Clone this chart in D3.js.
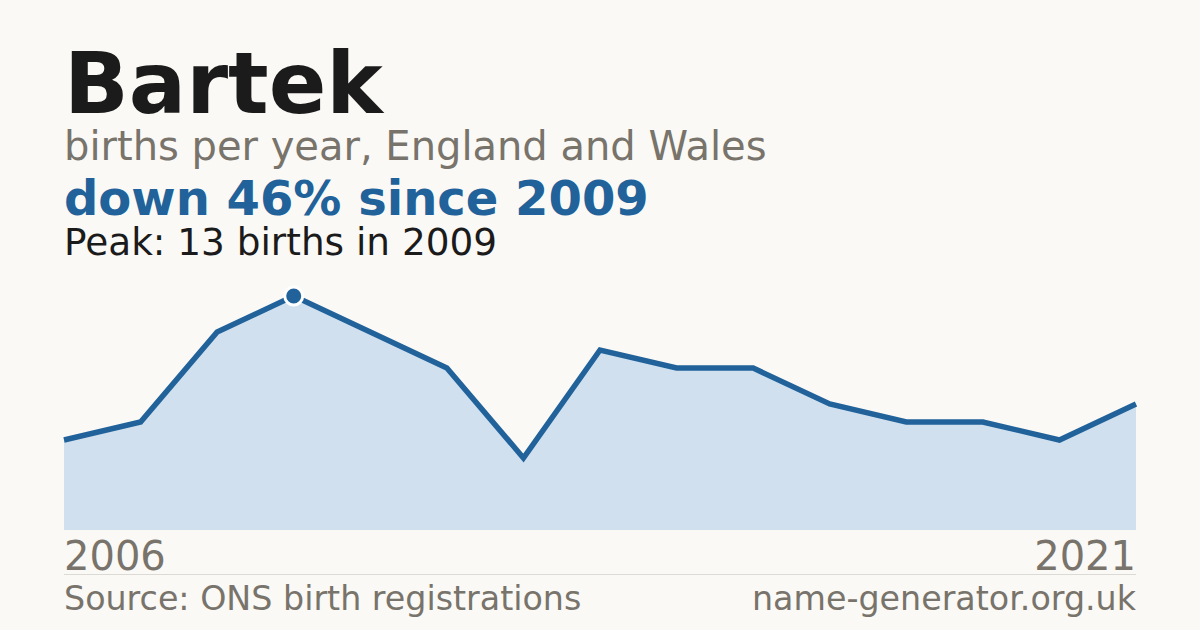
<!DOCTYPE html>
<html lang="en">
  <head>
    <meta charset="UTF-8" />
    <title>Bartek births</title>
    <script src="https://d3js.org/d3.v7.min.js"></script>
    <style>
      html, body { margin: 0; padding: 0; background: #faf9f5; }
      svg { display: block; font-family: "DejaVu Sans", sans-serif; }
    </style>
  </head>
  <body>
    <div id="chart"></div>
    <script>
      // ----------- Data ----------- //
      var years = ["2006", "2007", "2008", "2009", "2010", "2011", "2012", "2013",
                   "2014", "2015", "2016", "2017", "2018", "2019", "2021"];
      var births = [5, 6, 11, 13, 11, 9, 4, 10, 9, 9, 7, 6, 6, 5, 7];
      var peakYear = "2009";
      var axisLabels = ["2006", "2021"];

      // ----------- Basic Variables ----------- //
      var width = 1200;
      var height = 630;
      var xLeft = 64, xRight = 1136;
      var yTop = 296, yBottom = 530;
      var blue = "#21629a";
      var grey = "#78736b";

      var svg = d3.select("#chart").append("svg")
        .attr("width", width)
        .attr("height", height)
        .style("background", "#faf9f5");

      // ----------- Headings ----------- //
      svg.append("text")
        .attr("x", 64).attr("y", 113)
        .style("font-size", "85px").style("font-weight", "bold")
        .style("fill", "#1b1b1b")
        .text("Bartek");

      svg.append("text")
        .attr("x", 64).attr("y", 160)
        .style("font-size", "40px").style("fill", grey)
        .text("births per year, England and Wales");

      svg.append("text")
        .attr("x", 64).attr("y", 215)
        .style("font-size", "48px").style("font-weight", "bold")
        .style("fill", blue)
        .text("down 46% since 2009");

      svg.append("text")
        .attr("x", 64).attr("y", 255)
        .style("font-size", "37.4px").style("fill", "#1b1b1b")
        .text("Peak: 13 births in 2009");

      // ----------- Scales ----------- //
      var xScale = d3.scalePoint().domain(years).range([xLeft, xRight]);
      var yScale = d3.scaleLinear().domain([0, d3.max(births)]).range([yBottom, yTop]);

      var area = d3.area()
        .x(function(d, i) { return xScale(years[i]); })
        .y0(yBottom)
        .y1(function(d) { return yScale(d); });

      var line = d3.line()
        .x(function(d, i) { return xScale(years[i]); })
        .y(function(d) { return yScale(d); });

      svg.append("path")
        .datum(births)
        .attr("d", area)
        .style("fill", "#d0e0ef");

      svg.append("path")
        .datum(births)
        .attr("d", line)
        .style("fill", "none")
        .style("stroke", blue)
        .style("stroke-width", 5.5)
        .style("stroke-linejoin", "miter");

      // peak marker
      var peakIdx = years.indexOf(peakYear);
      svg.append("circle")
        .attr("cx", xScale(peakYear))
        .attr("cy", yScale(births[peakIdx]))
        .attr("r", 9)
        .style("fill", blue)
        .style("stroke", "#ffffff")
        .style("stroke-width", 3);

      // ----------- Axis labels ----------- //
      svg.append("text")
        .attr("x", xScale(axisLabels[0])).attr("y", 570)
        .style("font-size", "40px").style("fill", grey)
        .text(axisLabels[0]);

      svg.append("text")
        .attr("x", xScale(axisLabels[1])).attr("y", 570)
        .attr("text-anchor", "end")
        .style("font-size", "40px").style("fill", grey)
        .text(axisLabels[1]);

      svg.append("line")
        .attr("x1", xLeft).attr("x2", xRight)
        .attr("y1", 574.5).attr("y2", 574.5)
        .style("stroke", "#dcdad4").style("stroke-width", 1);

      // ----------- Footer ----------- //
      svg.append("text")
        .attr("x", 64).attr("y", 610)
        .style("font-size", "33.3px").style("fill", grey)
        .text("Source: ONS birth registrations");

      svg.append("text")
        .attr("x", 1136).attr("y", 610)
        .attr("text-anchor", "end")
        .style("font-size", "33.3px").style("fill", grey)
        .text("name-generator.org.uk");
    </script>
  </body>
</html>
